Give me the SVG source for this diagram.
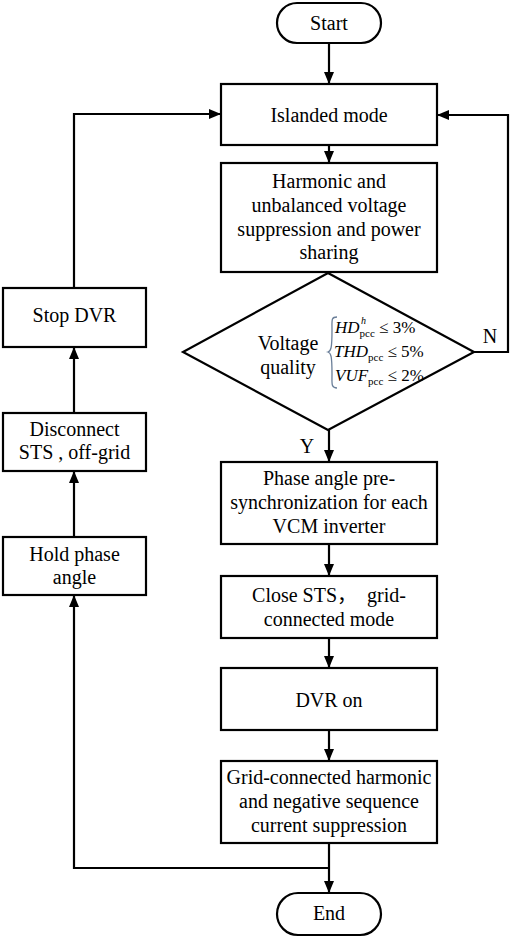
<svg xmlns="http://www.w3.org/2000/svg" width="512" height="938" viewBox="0 0 512 938">
<defs>
<marker id="ah" viewBox="0 0 12 10" refX="12" refY="5" markerWidth="12" markerHeight="10" markerUnits="userSpaceOnUse" orient="auto">
<path d="M0,0 L12,5 L0,10 Z" fill="#000"/>
</marker>
<style>
.box{fill:#fff;stroke:#000;stroke-width:2.2}
.t{font-family:'Liberation Serif','DejaVu Serif',serif;font-size:20px;fill:#000;text-anchor:middle}
.m{font-family:'Liberation Serif','DejaVu Serif',serif;font-size:17px;fill:#000}
.it{font-style:italic}
.ln{fill:none;stroke:#000;stroke-width:2.2}
.pre{white-space:pre}
</style>
</defs>
<rect width="512" height="938" fill="#fff"/>
<g id="connectors">
<path class="ln" d="M329,43 V84" marker-end="url(#ah)"/>
<path class="ln" d="M329,145 V163" marker-end="url(#ah)"/>
<path class="ln" d="M329,262 V274" marker-end="url(#ah)"/>
<path class="ln" d="M329,430 V462" marker-end="url(#ah)"/>
<path class="ln" d="M329,544 V576" marker-end="url(#ah)"/>
<path class="ln" d="M329,638 V668" marker-end="url(#ah)"/>
<path class="ln" d="M329,730 V761" marker-end="url(#ah)"/>
<path class="ln" d="M329,843 V893" marker-end="url(#ah)"/>
<path class="ln" d="M474,352 H508 V115 H437" marker-end="url(#ah)"/>
<path class="ln" d="M329,868 H74 V595" marker-end="url(#ah)"/>
<path class="ln" d="M74,537 V471" marker-end="url(#ah)"/>
<path class="ln" d="M74,413 V347" marker-end="url(#ah)"/>
<path class="ln" d="M74,288 V114 H221" marker-end="url(#ah)"/>
<text class="t" x="307" y="453">Y</text>
<text class="t" x="490" y="343">N</text>
</g>
<g id="start">
<rect class="box" x="277" y="3" width="104" height="40" rx="20"/>
<text class="t" x="329" y="30">Start</text>
</g>
<g id="islanded">
<rect class="box" x="221" y="84" width="216" height="61"/>
<text class="t" x="329" y="122">Islanded mode</text>
</g>
<g id="harmonic">
<rect class="box" x="221" y="163" width="216" height="109"/>
<text class="t" x="329" y="188">Harmonic and</text>
<text class="t" x="329" y="212">unbalanced voltage</text>
<text class="t" x="329" y="236">suppression and power</text>
<text class="t" x="329" y="259">sharing</text>
</g>
<g id="decision">
<path class="box" d="M328,273 L474,352 L328,430 L183,352 Z"/>
<text class="t" x="288" y="350">Voltage</text>
<text class="t" x="288" y="374">quality</text>
<path d="M337,317 C331,317 332,320 332,330 C332,348 331,351 328,352 C331,353 332,356 332,374 C332,384 331,388 337,388" fill="none" stroke="#6b7f99" stroke-width="1.3"/>
<text class="m" x="335" y="333"><tspan class="it">HD</tspan><tspan style="font-size:11px" dy="4">pcc</tspan><tspan dy="-4"> ≤ 3%</tspan></text>
<text class="m it" x="361" y="324" style="font-size:10px">h</text>
<text class="m" x="334" y="357"><tspan class="it">THD</tspan><tspan style="font-size:11px" dy="4">pcc</tspan><tspan dy="-4"> ≤ 5%</tspan></text>
<text class="m" x="335" y="381"><tspan class="it">VUF</tspan><tspan style="font-size:11px" dy="4">pcc</tspan><tspan dy="-4"> ≤ 2%</tspan></text>
</g>
<g id="phase">
<rect class="box" x="221" y="462" width="216" height="82"/>
<text class="t" x="329" y="485">Phase angle pre-</text>
<text class="t" x="329" y="509">synchronization for each</text>
<text class="t" x="329" y="533">VCM inverter</text>
</g>
<g id="close">
<rect class="box" x="221" y="576" width="216" height="62"/>
<text class="t pre" x="329" y="602" style="font-family:'Liberation Serif','Noto Sans CJK SC',serif">Close STS，  grid-</text>
<text class="t" x="329" y="626">connected mode</text>
</g>
<g id="dvron">
<rect class="box" x="221" y="668" width="216" height="62"/>
<text class="t" x="329" y="707">DVR on</text>
</g>
<g id="gridconn">
<rect class="box" x="221" y="761" width="216" height="82"/>
<text class="t" x="329" y="784">Grid-connected harmonic</text>
<text class="t" x="329" y="808">and negative sequence</text>
<text class="t" x="329" y="832">current suppression</text>
</g>
<g id="end">
<rect class="box" x="277" y="893" width="104" height="42" rx="21"/>
<text class="t" x="329" y="920">End</text>
</g>
<g id="stopdvr">
<rect class="box" x="3" y="288" width="143" height="59"/>
<text class="t" x="74.5" y="322">Stop DVR</text>
</g>
<g id="disconnect">
<rect class="box" x="3" y="413" width="143" height="58"/>
<text class="t" x="74.5" y="436">Disconnect</text>
<text class="t" x="74.5" y="459">STS , off-grid</text>
</g>
<g id="hold">
<rect class="box" x="3" y="537" width="143" height="58"/>
<text class="t" x="74.5" y="561">Hold phase</text>
<text class="t" x="74.5" y="584">angle</text>
</g>
</svg>
